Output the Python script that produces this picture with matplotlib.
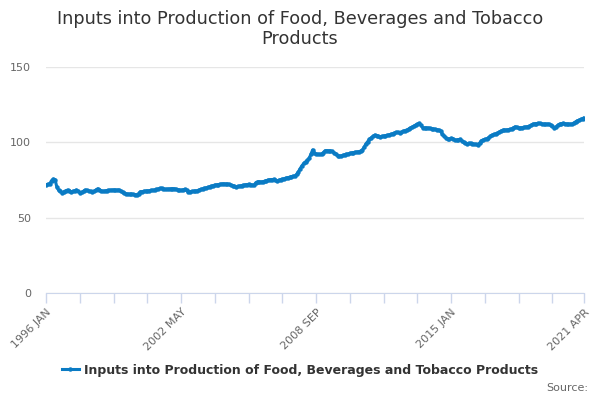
import matplotlib.pyplot as plt
import numpy as np

# monthly index values, 1996 JAN .. 2021 APR
start_year = 1996
month_names = ['JAN', 'FEB', 'MAR', 'APR', 'MAY', 'JUN',
               'JUL', 'AUG', 'SEP', 'OCT', 'NOV', 'DEC']

values = [
    # 1996
    72.0, 72.1, 72.5, 74.6, 75.6, 75.2, 70.3, 68.2, 67.4, 66.7, 67.3, 67.9,
    # 1997
    68.3, 68.0, 67.1, 67.4, 67.8, 68.3, 67.5, 66.7, 66.9, 67.6, 68.3, 68.1,
    # 1998
    67.8, 67.4, 67.0, 67.6, 68.4, 69.2, 68.6, 67.8, 67.5, 67.7, 68.0, 68.1,
    # 1999
    68.2, 68.3, 68.4, 68.2, 68.3, 68.4, 67.6, 66.9, 66.2, 65.9, 65.7, 65.5,
    # 2000
    65.6, 65.4, 65.3, 65.2, 66.0, 67.2, 67.3, 67.5, 67.6, 67.7, 67.9, 68.1,
    # 2001
    68.2, 68.3, 68.7, 69.0, 69.4, 69.5, 69.1, 68.8, 68.9, 69.0, 69.1, 69.2,
    # 2002
    69.2, 68.9, 68.6, 68.3, 68.1, 68.5, 68.8, 68.1, 67.2, 67.3, 67.4, 67.5,
    # 2003
    67.6, 67.9, 68.4, 68.8, 69.1, 69.5, 69.8, 70.1, 70.5, 70.9, 71.3, 71.7,
    # 2004
    71.8, 72.0, 72.2, 72.4, 72.5, 72.3, 72.2, 72.1, 71.6, 71.2, 70.8, 70.5,
    # 2005
    70.7, 71.0, 71.3, 71.5, 71.8, 72.0, 72.1, 71.9, 71.7, 71.5, 73.2, 73.9,
    # 2006
    73.8, 73.7, 73.9, 74.2, 74.6, 75.0, 75.2, 75.3, 75.4, 74.8, 74.3, 74.8,
    # 2007
    75.3, 75.6, 75.9, 76.3, 76.6, 76.8, 77.2, 77.5, 77.6, 78.8, 80.5, 82.6,
    # 2008
    84.5, 86.0, 87.1, 88.0, 89.4, 92.0, 95.0, 93.0, 92.2, 92.1, 92.0, 92.0,
    # 2009
    93.2, 94.4, 94.5, 94.4, 94.3, 94.0, 93.1, 92.4, 91.2, 90.9, 91.0, 91.3,
    # 2010
    91.8, 92.1, 92.3, 92.7, 93.0, 93.2, 93.4, 93.6, 93.8, 94.2, 94.9, 96.8,
    # 2011
    99.0, 100.5, 102.0, 103.1, 104.0, 104.8, 104.5, 104.0, 103.7, 103.9, 104.2, 104.4,
    # 2012
    104.6, 105.0, 105.3, 105.7, 106.1, 106.6, 106.6, 106.5, 106.6, 107.3, 107.8, 108.2,
    # 2013
    108.8, 109.5, 110.1, 110.8, 111.5, 112.0, 112.6, 111.2, 109.7, 109.6, 109.5, 109.5,
    # 2014
    109.3, 109.0, 108.8, 108.6, 108.4, 108.2, 107.6, 105.5, 104.2, 103.1, 102.2, 102.0,
    # 2015
    102.7, 102.5, 101.5, 101.5, 101.8, 102.0, 100.9, 100.0, 99.3, 99.2, 99.3, 99.3,
    # 2016
    99.1, 98.7, 98.6, 98.4, 99.5, 101.1, 101.6, 102.0, 102.2, 103.1, 104.0, 104.8,
    # 2017
    105.2, 105.6, 106.0, 106.8, 107.5, 108.0, 108.1, 108.2, 108.4, 108.6, 108.8, 109.6,
    # 2018
    110.3, 110.0, 109.5, 109.6, 109.8, 110.0, 110.2, 110.4, 110.6, 111.3, 112.1, 112.3,
    # 2019
    112.4, 112.6, 112.5, 112.3, 112.1, 112.0, 112.1, 112.1, 111.5, 110.6, 109.7, 110.3,
    # 2020
    111.3, 112.1, 112.4, 112.6, 112.4, 112.2, 112.0, 112.1, 112.1, 112.8, 113.6, 114.3,
    # 2021
    114.7, 115.2, 115.8, 116.4,
]

series_name = 'Inputs into Production of Food, Beverages and Tobacco Products'
title = 'Inputs into Production of Food, Beverages and Tobacco\nProducts'
y_ticks = [0, 50, 100, 150]

categories = [f'{start_year + i // 12} {month_names[i % 12]}' for i in range(len(values))]
x = np.arange(len(values))

line_color = '#0a7bc4'
grid_color = '#e6e6e6'
axis_color = '#ccd6eb'
label_color = '#666666'

fig = plt.figure(figsize=(6, 4), dpi=100)
ax = fig.add_axes([0.077, 0.2675, 0.897, 0.565])

ax.plot(x, values, color=line_color, lw=2.2, marker='o', ms=3.2,
        markeredgewidth=0, label=series_name, zorder=3)

ax.set_ylim(0, 150)
ax.set_xlim(0, len(values) - 1)
ax.set_yticks(y_ticks)
ax.yaxis.grid(True, color=grid_color, lw=1)
ax.set_axisbelow(True)

# ticks every 19 categories, labels every 4th tick
tick_pos = list(range(0, len(values) - 1, 19)) + [len(values) - 1]
ax.set_xticks(tick_pos)
ax.set_xticklabels([categories[p] if (i % 4 == 0 or p == len(values) - 1) else ''
                    for i, p in enumerate(tick_pos)],
                   rotation=45, ha='right', rotation_mode='anchor')

for s in ['top', 'right', 'left']:
    ax.spines[s].set_visible(False)
ax.spines['bottom'].set_color(axis_color)
ax.tick_params(axis='x', colors=axis_color, length=7, width=1, labelcolor=label_color,
               labelsize=8, pad=3)
ax.tick_params(axis='y', length=0, labelcolor=label_color, labelsize=8, pad=11)

fig.suptitle(title, x=0.5, y=0.975, fontsize=12.7, color='#333333', va='top',
             linespacing=1.15)

fig.legend(loc='lower center', bbox_to_anchor=(0.5, 0.03), frameon=False,
           handlelength=1.3, handletextpad=0.4,
           prop={'weight': 'bold', 'size': 9}, labelcolor='#333333')

fig.text(0.98, 0.018, 'Source:', ha='right', va='bottom', fontsize=8, color=label_color)

fig.savefig('out.png', dpi=100)
